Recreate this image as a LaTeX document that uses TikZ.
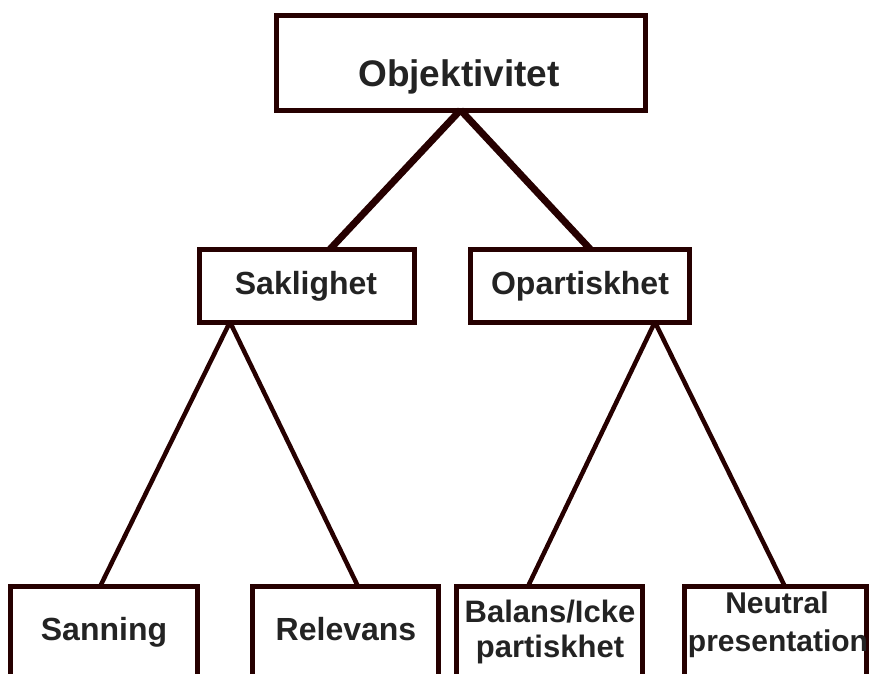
\documentclass[tikz,border=0pt]{standalone}
\usepackage{fontspec}
\setmainfont{Liberation Sans}
\usetikzlibrary{calc}
\definecolor{edge}{RGB}{38,0,0}
\definecolor{ink}{RGB}{35,35,35}
\tikzset{
  box/.style={draw=edge, line width=5pt, fill=none, inner sep=0pt, outer sep=0pt, rectangle},
  lbl/.style={text=ink, font=\bfseries\fontsize{32}{36}\selectfont, inner sep=0pt, anchor=base},
  smalllbl/.style={lbl, font=\bfseries\fontsize{30}{34}\selectfont},
  toplbl/.style={lbl, font=\bfseries\fontsize{37}{40}\selectfont},
  thick link/.style={draw=edge, line width=7pt},
  thin link/.style={draw=edge, line width=4.5pt}
}
\begin{document}
\begin{tikzpicture}[x=1pt,y=-1pt]
\useasboundingbox (0,0) rectangle (870,673);
\clip (0,0) rectangle (870,673);
% boxes
\node[box, minimum width=369pt, minimum height=95pt] (objB) at (460.5,62.5) {};
\node[box, minimum width=215pt, minimum height=73pt] (sakB) at (306.5,285.5) {};
\node[box, minimum width=219pt, minimum height=73pt] (opaB) at (580,285.5) {};
\node[box, minimum width=187pt, minimum height=120pt] (sanB) at (104,646.5) {};
\node[box, minimum width=185.5pt, minimum height=120pt] (relB) at (345.25,646.5) {};
\node[box, minimum width=186pt, minimum height=120pt] (balB) at (549.5,646.5) {};
\node[box, minimum width=182.5pt, minimum height=120pt] (neuB) at (775.25,646.5) {};
% labels (positioned by baseline)
\node[toplbl] (objT) at (459,86) {Objektivitet};
\node[lbl] (sakT) at (306,294) {Saklighet};
\node[lbl] (opaT) at (580,294) {Opartiskhet};
\node[lbl] (sanT) at (104,640) {Sanning};
\node[lbl] (relT) at (346,640) {Relevans};
\node[lbl, font=\bfseries\fontsize{31}{34}\selectfont] (balT1) at (550,622) {Balans/Icke};
\node[lbl, font=\bfseries\fontsize{31}{34}\selectfont] (balT2) at (550,657) {partiskhet};
\node[smalllbl] (neuT1) at (777,613) {Neutral};
\node[smalllbl] (neuT2) at (778,651) {presentation};
% connectors
\draw[thick link] (objB.south) -- ($(sakB.north west)!0.61!(sakB.north east)$);
\draw[thick link] (objB.south) -- ($(opaB.north west)!0.546!(opaB.north east)$);
\draw[thin link] ($(sakB.south west)!0.144!(sakB.south east)$) -- ($(sanB.north west)!0.479!(sanB.north east)$);
\draw[thin link] ($(sakB.south west)!0.144!(sakB.south east)$) -- ($(relB.north west)!0.569!(relB.north east)$);
\draw[thin link] ($(opaB.south west)!0.842!(opaB.south east)$) -- ($(balB.north west)!0.384!(balB.north east)$);
\draw[thin link] ($(opaB.south west)!0.842!(opaB.south east)$) -- ($(neuB.north west)!0.553!(neuB.north east)$);
\end{tikzpicture}
\end{document}
